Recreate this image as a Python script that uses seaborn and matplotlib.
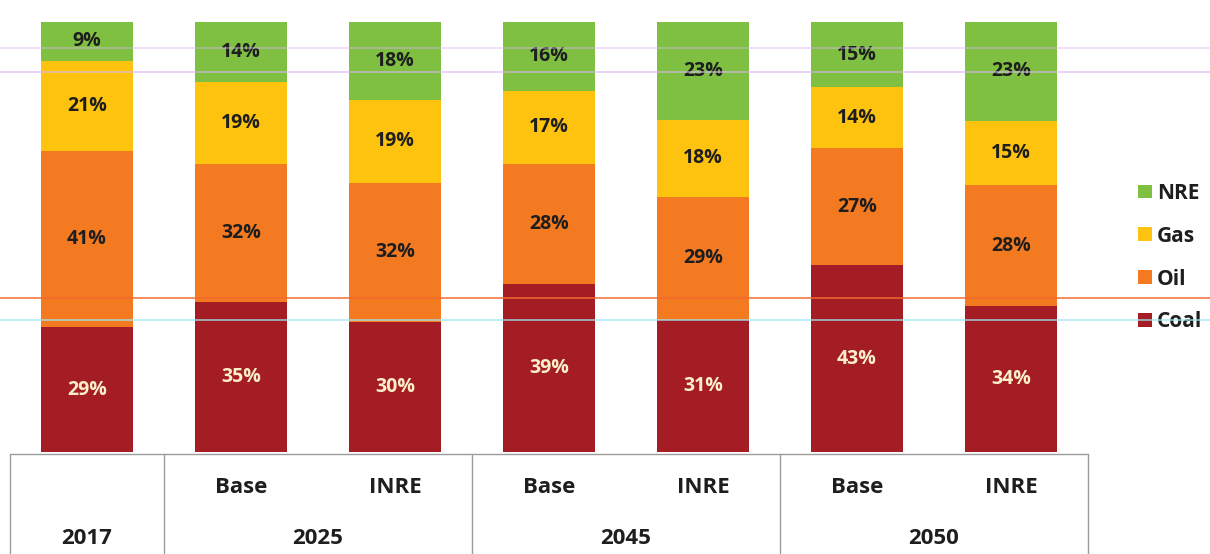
import matplotlib
matplotlib.use("Agg")
import matplotlib.pyplot as plt
import seaborn as sns
import pandas as pd
import numpy as np
from matplotlib.patches import Patch
from matplotlib.lines import Line2D

# ---- data ----
bars = ["2017", "2025 Base", "2025 INRE", "2045 Base", "2045 INRE", "2050 Base", "2050 INRE"]
sub_labels = ["", "Base", "INRE", "Base", "INRE", "Base", "INRE"]
years = ["2017", "2025", "2045", "2050"]
year_spans = [(0, 0), (1, 2), (3, 4), (5, 6)]
coal = [29, 35, 30, 39, 31, 43, 34]
oil = [41, 32, 32, 28, 29, 27, 28]
gas = [21, 19, 19, 17, 18, 14, 15]
nre = [9, 14, 18, 16, 23, 15, 23]

series = ["Coal", "Oil", "Gas", "NRE"]
values = {"Coal": coal, "Oil": oil, "Gas": gas, "NRE": nre}
colors = {"Coal": "#A41C24", "Oil": "#F47A22", "Gas": "#FDC30F", "NRE": "#7FC043"}
label_colors = {"Coal": "#FBEFC8", "Oil": "#1E1E1E", "Gas": "#1E1E1E", "NRE": "#1E1E1E"}

sns.set_theme(style="white")
plt.rcParams["font.family"] = ["Open Sans", "DejaVu Sans"]
plt.rcParams["font.weight"] = "bold"

FS = 14
FS_TABLE = 16
FS_LEG = 15

fig = plt.figure(figsize=(12.1, 5.54), dpi=100)
ax = fig.add_axes([0.0, (554 - 452) / 554, 1100 / 1210, 430 / 554])

df = pd.DataFrame({"bar": bars, **values})
totals = df[series].sum(axis=1)
share = df[series].div(totals, axis=0) * 100  # 100% stacked
cum = share.cumsum(axis=1)

# draw cumulative from top (largest) down
for s in reversed(series):
    sns.barplot(data=pd.DataFrame({"bar": bars, "v": cum[s]}), x="bar", y="v",
                order=bars, color=colors[s], saturation=1, width=0.6, ax=ax,
                edgecolor="none", linewidth=0)

# segment labels
for i in range(len(bars)):
    for s in series:
        mid = cum[s][i] - share[s][i] / 2
        ax.text(i, mid, f"{values[s][i]}%", ha="center", va="center",
                fontsize=FS, fontweight="bold", color=label_colors[s])

ax.set_xlim(-0.565, 6.578)
ax.set_ylim(0, 100)
ax.set_xlabel("")
ax.set_ylabel("")
ax.set_xticks([])
ax.set_yticks([])
for sp in ax.spines.values():
    sp.set_visible(False)

# category table below the bars
tr = ax.get_xaxis_transform()
line_kw = dict(color="#9C9C9C", lw=1.0, transform=tr, clip_on=False)
ax.plot([-0.5, 6.5], [-0.005, -0.005], **line_kw)
for xv in [-0.5, 0.5, 2.5, 4.5, 6.5]:
    ax.plot([xv, xv], [-0.005, -0.25], **line_kw)
for i, lab in enumerate(sub_labels):
    if lab:
        ax.text(i, -0.083, lab, transform=tr, ha="center", va="center",
                fontsize=FS_TABLE, fontweight="bold", color="#1E1E1E")
for yr, (a, b) in zip(years, year_spans):
    ax.text((a + b) / 2, -0.2, yr, transform=tr, ha="center", va="center",
            fontsize=FS_TABLE, fontweight="bold", color="#1E1E1E")

# legend
handles = [Patch(facecolor=colors[s], edgecolor="none") for s in reversed(series)]
leg = fig.legend(handles, list(reversed(series)), loc="center left",
                 bbox_to_anchor=(0.925, 0.535), frameon=False,
                 handlelength=0.65, handleheight=0.65, handletextpad=0.25,
                 labelspacing=1.05, prop={"size": FS_LEG, "weight": "bold"})
for t in leg.get_texts():
    t.set_color("#1E1E1E")

# faint scan lines across the page
for ypx, col, a in [(48, "#D9B8EE", 0.5), (72, "#D9B8EE", 0.7), (298, "#F26A2E", 0.9), (320, "#9FE6F2", 0.8)]:
    yf = 1 - ypx / 554
    fig.add_artist(Line2D([0, 1], [yf, yf], transform=fig.transFigure,
                          color=col, lw=1.2, alpha=a, zorder=10))

fig.savefig("out.png", dpi=100, facecolor="white")
